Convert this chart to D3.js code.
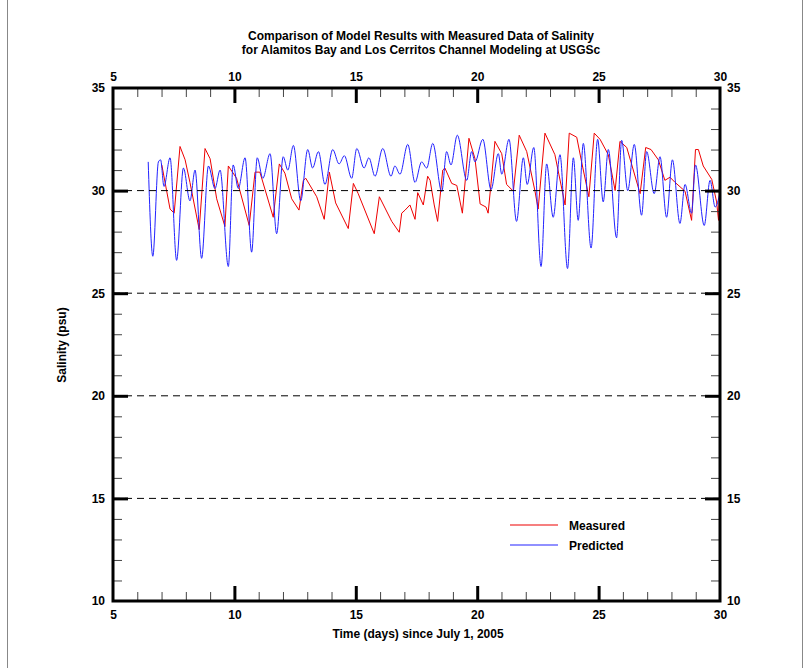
<!DOCTYPE html>
<html><head><meta charset="utf-8">
<script src="https://cdn.jsdelivr.net/npm/d3@7"></script>
<style>
html,body{margin:0;padding:0;background:#fff;}
svg{display:block;font-family:"Liberation Sans",Arial,sans-serif;}
</style></head>
<body>
<svg id="chart" width="805" height="671"></svg>
<script>
// ---- data ----
const titleLines = ["Comparison of Model Results with Measured Data of Salinity",
                    "for Alamitos Bay and Los Cerritos Channel Modeling at USGSc"];
const xLabel = "Time (days) since July 1, 2005";
const yLabel = "Salinity (psu)";
const xTicks = [5, 10, 15, 20, 25, 30];
const yTicks = [10, 15, 20, 25, 30, 35];
const gridValues = [15, 20, 25, 30];
const seriesNames = ["Measured", "Predicted"];
const seriesColors = ["#ee0000", "#2222ff"];

// Predicted (model) salinity: [day, psu]
const predicted = [
[6.45,31.4],[6.64,26.8],[6.87,31.4],[6.96,31.5],[7.10,30.2],[7.35,31.6],[7.62,26.6],
[7.90,31.1],[8.17,29.5],[8.38,31.0],[8.65,26.7],[8.93,31.2],[9.20,30.1],[9.41,31.0],
[9.75,26.3],[9.95,31.25],[10.16,30.1],[10.44,31.6],[10.71,27.0],[10.94,31.6],[11.17,30.6],
[11.47,31.8],[11.74,27.9],[12.01,31.65],[12.20,31.0],[12.43,32.2],[12.73,29.5],[13.02,32.0],
[13.22,31.1],[13.46,31.9],[13.73,30.3],[14.05,32.0],[14.31,31.3],[14.53,31.7],[14.83,30.6],
[15.04,32.05],[15.34,31.1],[15.54,31.6],[15.79,30.7],[16.11,32.05],[16.45,30.7],[16.61,31.2],
[16.82,30.8],[17.14,32.25],[17.44,30.4],[17.71,31.4],[17.92,31.1],[18.17,32.3],[18.54,29.95],
[18.74,31.9],[18.92,31.25],[19.18,32.7],[19.57,30.5],[19.77,31.9],[19.91,31.4],[20.23,32.5],
[20.57,30.05],[20.87,31.8],[21.01,30.8],[21.31,32.5],[21.62,28.5],[21.90,31.6],[22.06,30.3],
[22.33,32.1],[22.63,26.3],[22.86,31.3],[23.13,28.7],[23.41,31.75],[23.72,26.2],[23.96,31.6],
[24.16,28.55],[24.37,32.3],[24.69,27.2],[24.96,32.5],[25.19,29.45],[25.40,32.0],[25.74,27.7],
[25.95,32.45],[26.20,30.0],[26.47,32.25],[26.77,28.8],[26.98,31.9],[27.29,29.85],[27.53,31.65],
[27.80,28.7],[28.04,31.5],[28.35,28.4],[28.56,30.3],[28.83,28.9],[28.99,31.25],[29.35,28.3],
[29.59,30.5],[29.80,29.2],[30.0,29.9]
];

// Measured salinity: [day, psu]
const measured = [
[7.01,31.25],[7.35,29.1],[7.52,28.9],[7.76,32.15],[7.97,31.5],[8.17,30.4],[8.55,28.1],
[8.79,32.05],[9.00,31.55],[9.27,29.6],[9.61,28.25],[9.75,31.2],[10.09,30.6],[10.61,28.3],
[10.85,30.9],[11.05,30.9],[11.60,28.7],[11.85,31.3],[12.08,30.85],[12.36,29.6],[12.66,29.05],
[12.84,30.5],[12.94,30.6],[13.39,29.7],[13.70,28.6],[13.91,30.9],[14.17,29.4],[14.69,28.15],
[14.90,30.35],[15.10,29.85],[15.76,27.9],[15.97,29.7],[16.48,28.5],[16.79,27.97],[16.89,28.9],
[17.03,29.05],[17.23,29.3],[17.44,28.6],[17.55,29.9],[17.78,29.3],[17.96,30.7],[18.06,30.5],
[18.23,29.3],[18.37,28.5],[18.58,31.0],[18.67,31.1],[18.95,30.35],[19.16,30.25],[19.39,28.9],
[19.66,32.55],[19.91,31.55],[20.12,29.35],[20.36,29.2],[20.45,28.9],[20.57,30.35],[20.73,32.4],
[21.01,31.8],[21.21,30.3],[21.49,29.97],[21.73,32.7],[22.04,31.9],[22.38,29.97],[22.51,29.1],
[22.79,32.8],[23.20,31.75],[23.62,29.3],[23.79,32.8],[24.10,32.6],[24.30,31.4],[24.60,29.7],
[24.82,32.8],[25.06,32.5],[25.40,31.75],[25.68,30.0],[25.88,32.4],[26.16,32.1],[26.71,29.85],
[26.94,32.1],[27.16,32.0],[27.46,31.5],[27.73,30.5],[27.94,30.65],[28.15,30.4],[28.56,29.97],
[28.83,28.55],[28.99,32.0],[29.11,32.0],[29.31,31.2],[29.66,30.55],[29.86,29.45],[29.94,28.55],
[30.0,31.1]
];

// ---- drawing ----
const svg = d3.select("#chart");
const L = 113, R = 720, T = 88, B = 601;
const x = d3.scaleLinear().domain([5, 30]).range([L, R]);
const y = d3.scaleLinear().domain([10, 35]).range([B, T]);
const minorX = d3.range(5, 31, 1);
const minorY = d3.range(10, 36, 1);

// outer page border
svg.append("line").attr("x1", 7.5).attr("x2", 7.5).attr("y1", 0).attr("y2", 668).attr("stroke", "#888");
svg.append("line").attr("x1", 802.5).attr("x2", 802.5).attr("y1", 0).attr("y2", 668).attr("stroke", "#888");

// data
svg.append("clipPath").attr("id", "clip").append("rect")
  .attr("x", L).attr("y", T).attr("width", R - L).attr("height", B - T);
const plot = svg.append("g").attr("clip-path", "url(#clip)");
const lineLin = d3.line().x(d => x(d[0])).y(d => y(d[1]));
const lineSmooth = d3.line().x(d => x(d[0])).y(d => y(d[1])).curve(d3.curveMonotoneX);
plot.append("path").datum(measured).attr("d", lineLin)
  .attr("fill", "none").attr("stroke", seriesColors[0]).attr("stroke-width", 1);
plot.append("path").datum(predicted).attr("d", lineSmooth)
  .attr("fill", "none").attr("stroke", seriesColors[1]).attr("stroke-width", 1);

// dashed grid
svg.append("g").selectAll("line").data(gridValues).join("line")
  .attr("x1", L).attr("x2", R).attr("y1", d => y(d)).attr("y2", d => y(d))
  .attr("stroke", "#000").attr("stroke-width", 1).attr("stroke-dasharray", "7,5");

// tick helper
function ticks(axisFn, scale, vals, size, width, col, tr) {
  const g = svg.append("g").attr("transform", tr)
    .call(axisFn(scale).tickValues(vals).tickSizeInner(-size).tickSizeOuter(0).tickFormat(""));
  g.select(".domain").remove();
  g.selectAll("line").attr("stroke", col).attr("stroke-width", width);
}
const majorX = xTicks.slice(1, -1), majorY = gridValues;
ticks(d3.axisBottom, x, minorX, 9, 1, "#444", `translate(0,${B})`);
ticks(d3.axisTop, x, minorX, 9, 1, "#444", `translate(0,${T})`);
ticks(d3.axisLeft, y, minorY, 9, 1, "#444", `translate(${L},0)`);
ticks(d3.axisRight, y, minorY, 9, 1, "#444", `translate(${R},0)`);
ticks(d3.axisBottom, x, majorX, 15, 3, "#000", `translate(0,${B})`);
ticks(d3.axisTop, x, majorX, 15, 3, "#000", `translate(0,${T})`);
ticks(d3.axisLeft, y, majorY, 15, 3, "#000", `translate(${L},0)`);
ticks(d3.axisRight, y, majorY, 15, 3, "#000", `translate(${R},0)`);

// frame
svg.append("rect").attr("x", L).attr("y", T).attr("width", R - L).attr("height", B - T)
  .attr("fill", "none").attr("stroke", "#000").attr("stroke-width", 3);

// labels
function labels(axisFn, scale, vals, pad, tr) {
  const g = svg.append("g").attr("transform", tr)
    .call(axisFn(scale).tickValues(vals).tickSize(0).tickPadding(pad).tickFormat(d3.format("d")));
  g.select(".domain").remove();
  g.selectAll("text").attr("font-size", 12).attr("font-weight", "bold")
    .attr("font-family", "Liberation Sans, Arial, sans-serif").attr("fill", "#000");
}
labels(d3.axisBottom, x, xTicks, 9, `translate(0,${B})`);
labels(d3.axisTop, x, xTicks, 7, `translate(0,${T})`);
labels(d3.axisLeft, y, yTicks, 8, `translate(${L},0)`);
labels(d3.axisRight, y, yTicks, 7, `translate(${R},0)`);

// titles
titleLines.forEach((t, i) => {
  svg.append("text").attr("x", 421).attr("y", 40 + i * 13.5)
    .attr("text-anchor", "middle").attr("font-size", 12).attr("font-weight", "bold").text(t);
});
svg.append("text").attr("x", 418).attr("y", 638).attr("text-anchor", "middle")
  .attr("font-size", 12).attr("font-weight", "bold").text(xLabel);
svg.append("text").attr("transform", "translate(66,345) rotate(-90)").attr("text-anchor", "middle")
  .attr("font-size", 12).attr("font-weight", "bold").text(yLabel);

// legend
seriesNames.forEach((name, i) => {
  const ly = 525 + i * 20;
  svg.append("line").attr("x1", 510).attr("x2", 558).attr("y1", ly).attr("y2", ly)
    .style("stroke", seriesColors[i]).style("stroke-width", 1.2);
  svg.append("text").attr("x", 569).attr("y", ly + 5).attr("font-size", 12)
    .attr("font-weight", "bold").attr("fill", "#000").text(name);
});
</script>
</body></html>
